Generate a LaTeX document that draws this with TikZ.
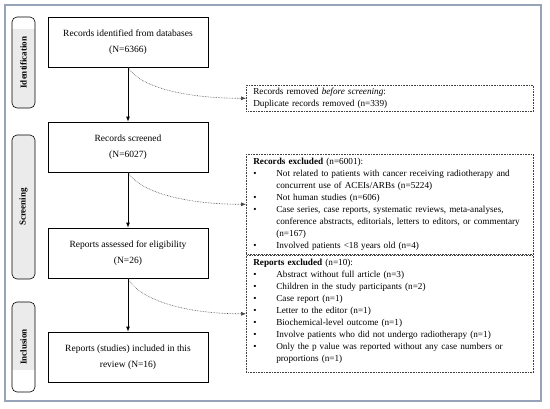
\documentclass[tikz,border=0pt]{standalone}
\usepackage{fontspec}
\setmainfont{Liberation Serif}
\usetikzlibrary{arrows.meta}
\definecolor{framegray}{RGB}{150,163,184}

\begin{document}
\begin{tikzpicture}[x=1pt, y=-1pt,
    flowbox/.style={draw, line width=0.8pt, minimum width=160pt, minimum height=50pt, inner sep=2pt, align=center, font=\fontsize{9.5}{16}\selectfont},
    notebox/.style={draw=black!75, densely dotted, line width=0.6pt, anchor=north west, text width=273pt, inner xsep=7pt, inner ysep=2pt, align=left, font=\fontsize{9.2}{12}\selectfont},
    mainarrow/.style={line width=0.8pt, -{Latex[length=5pt,width=4pt]}},
    sidearrow/.style={draw=black!75, densely dotted, line width=0.6pt, -{Latex[length=5pt,width=4pt]}},
    stagetext/.style={rotate=90, font=\bfseries\fontsize{9}{11}\selectfont}]
    \useasboundingbox (0,0) rectangle (550,408);
    \draw[line width=1.5pt, framegray] (5,5) rectangle (541,401);

    \begin{scope}
        \clip[rounded corners=5pt] (12,17) rectangle (35,108);
        \fill[black!8] (12,29) rectangle (35,108);
    \end{scope}
    \draw[rounded corners=5pt, line width=0.6pt] (12,17) rectangle (35,108);
    \node[stagetext] (identlabel) at (23.5,62.5) {Identification};

    \begin{scope}
        \clip[rounded corners=5pt] (12,135) rectangle (35,279);
        \fill[black!8] (12,135) rectangle (35,279);
    \end{scope}
    \draw[rounded corners=5pt, line width=0.6pt] (12,135) rectangle (35,279);
    \node[stagetext] (screenlabel) at (23.5,207) {Screening};

    \begin{scope}
        \clip[rounded corners=5pt] (12,302) rectangle (35,392);
        \fill[black!8] (12,302) rectangle (35,370);
    \end{scope}
    \draw[rounded corners=5pt, line width=0.6pt] (12,302) rectangle (35,392);
    \node[stagetext] (incllabel) at (23.5,347) {Inclusion};

    \node[flowbox] (idbox) at (128,42) {Records identified from databases\\(N=6366)};
    \node[flowbox] (screenbox) at (128,147) {Records screened\\(N=6027)};
    \node[flowbox] (eligbox) at (128,253) {Reports assessed for eligibility\\(N=26)};
    \node[flowbox] (inclbox) at (128,357) {Reports (studies) included in this\\review (N=16)};

    \node[notebox, minimum height=26pt] (removedbox) at (246,85) {Records removed \textit{before screening}:\\Duplicate records removed (n=339)};
    \node[notebox] (excludedbox) at (246,154) {\noindent\begin{tabular}{@{}p{23pt}@{}l@{}}
        \multicolumn{2}{@{}l@{}}{\textbf{Records excluded} (n=6001):}\\
        \textbullet & Not related to patients with cancer receiving radiotherapy and\\
                    & concurrent use of ACEIs/ARBs (n=5224)\\
        \textbullet & Not human studies (n=606)\\
        \textbullet & Case series, case reports, systematic reviews, meta-analyses,\\
                    & conference abstracts, editorials, letters to editors, or commentary\\
                    & (n=167)\\
        \textbullet & Involved patients <18 years old (n=4)
        \end{tabular}};
    \node[notebox] (reportsbox) at (246,255) {\noindent\begin{tabular}{@{}p{23pt}@{}l@{}}
        \multicolumn{2}{@{}l@{}}{\textbf{Reports excluded} (n=10):}\\
        \textbullet & Abstract without full article (n=3)\\
        \textbullet & Children in the study participants (n=2)\\
        \textbullet & Case report (n=1)\\
        \textbullet & Letter to the editor (n=1)\\
        \textbullet & Biochemical-level outcome (n=1)\\
        \textbullet & Involve patients who did not undergo radiotherapy (n=1)\\
        \textbullet & Only the p value was reported without any case numbers or\\
                    & proportions (n=1)\\[5pt]
        \end{tabular}};

    \draw[mainarrow] (idbox.south) -- (screenbox.north);
    \draw[mainarrow] (screenbox.south) -- (eligbox.north);
    \draw[mainarrow] (eligbox.south) -- (inclbox.north);
    \draw[sidearrow] (idbox.south) .. controls +(12,20) and +(-60,0) .. (removedbox.west);
    \draw[sidearrow] (screenbox.south) .. controls +(12,20) and +(-60,0) .. (excludedbox.west);
    \draw[sidearrow] (eligbox.south) .. controls +(12,22) and +(-60,0) .. (reportsbox.west);
\end{tikzpicture}
\end{document}
